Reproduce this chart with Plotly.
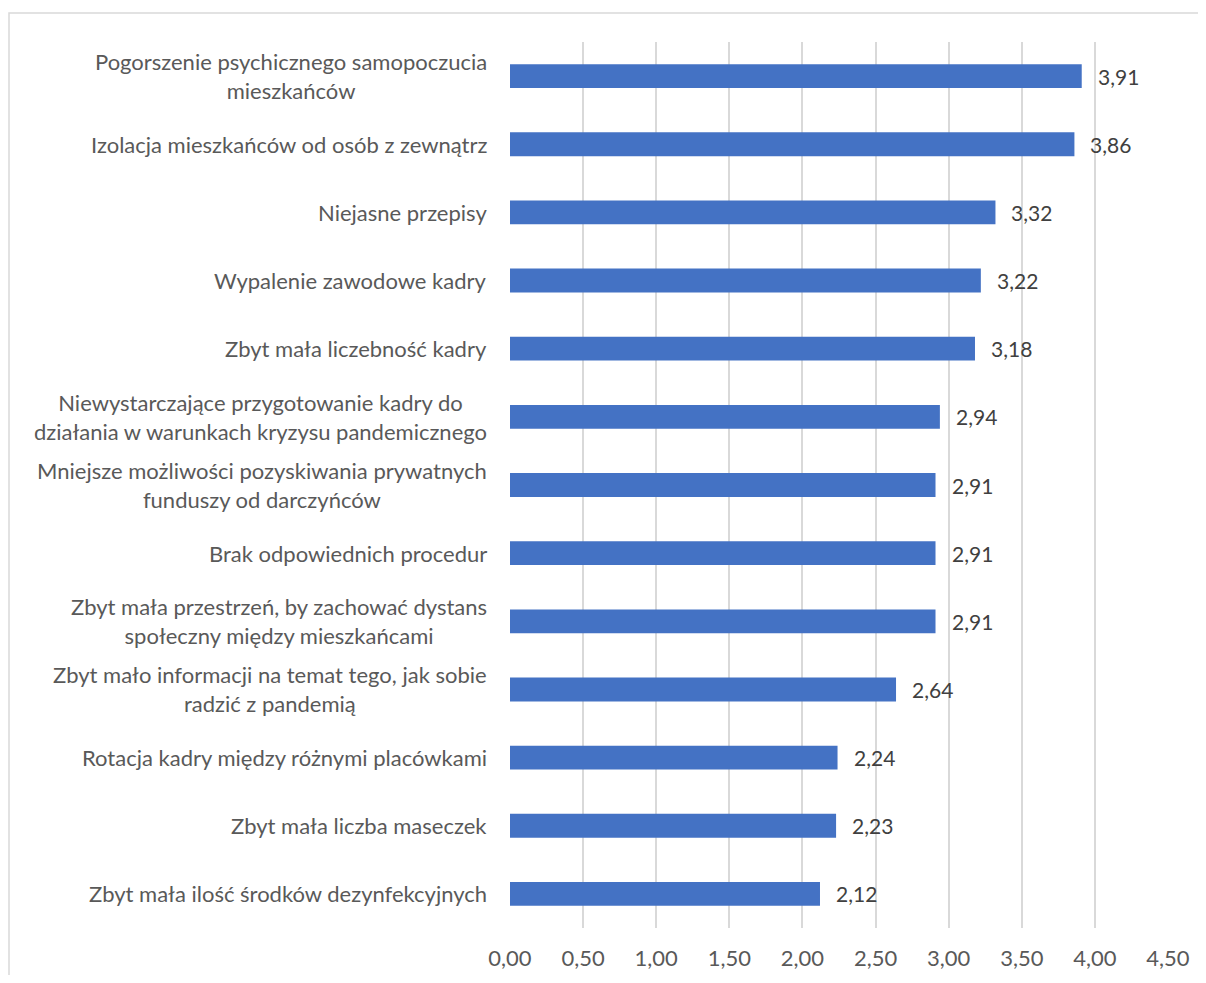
import plotly.graph_objects as go

categories = [
    "Pogorszenie psychicznego samopoczucia<br>mieszkańców",
    "Izolacja mieszkańców od osób z zewnątrz",
    "Niejasne przepisy",
    "Wypalenie zawodowe kadry",
    "Zbyt mała liczebność kadry",
    "Niewystarczające przygotowanie kadry do<br>działania w warunkach kryzysu pandemicznego",
    "Mniejsze możliwości pozyskiwania prywatnych<br>funduszy od darczyńców",
    "Brak odpowiednich procedur",
    "Zbyt mała przestrzeń, by zachować dystans<br>społeczny między mieszkańcami",
    "Zbyt mało informacji na temat tego, jak sobie<br>radzić z pandemią",
    "Rotacja kadry między różnymi placówkami",
    "Zbyt mała liczba maseczek",
    "Zbyt mała ilość środków dezynfekcyjnych",
]
values = [3.91, 3.86, 3.32, 3.22, 3.18, 2.94, 2.91, 2.91, 2.91, 2.64, 2.24, 2.23, 2.12]
tick_vals = [0, 0.5, 1, 1.5, 2, 2.5, 3, 3.5, 4, 4.5]

# page body has an 8px margin; size figure to fit the viewport
W, H = 1190, 967
ML, MR, MT, MB = 502, 30, 34, 47
pw, ph = W - ML - MR, H - MT - MB

FONT = "Lato"
TXT = "#595959"

fig = go.Figure(go.Bar(
    x=values, y=categories, orientation="h",
    marker=dict(color="#4472C4", line=dict(width=0)),
    width=0.35, hoverinfo="skip",
))

annotations = []
for c, v in zip(categories, values):
    annotations.append(dict(
        x=v, y=c, xref="x", yref="y", xanchor="left", xshift=14,
        text=f"{v:.2f}".replace(".", ","), showarrow=False,
        font=dict(family=FONT, size=21, color="#404040"),
    ))
    annotations.append(dict(
        x=0, y=c, xref="paper", yref="y", xanchor="right", xshift=-21,
        text=c, showarrow=False, align="center",
        font=dict(family=FONT, size=22, color=TXT),
    ))

border_x0 = (1 - ML) / pw
border_y1 = (H - MB - 5) / ph

fig.update_layout(
    width=W, height=H, autosize=False,
    margin=dict(l=ML, r=MR, t=MT, b=MB, pad=0, autoexpand=False),
    paper_bgcolor="white", plot_bgcolor="white",
    separators=", ",
    showlegend=False,
    xaxis=dict(
        range=[0, 4.5], tickvals=tick_vals, tickformat=".2f",
        showgrid=True, gridcolor="#D9D9D9", gridwidth=1.5,
        zeroline=False, showline=False, automargin=False,
        ticks="outside", ticklen=11, tickcolor="rgba(0,0,0,0)",
        tickfont=dict(family=FONT, size=22, color=TXT),
        fixedrange=True,
    ),
    yaxis=dict(
        autorange="reversed", showticklabels=False, showgrid=False,
        zeroline=False, showline=False, fixedrange=True, automargin=False,
    ),
    annotations=annotations,
    shapes=[dict(
        type="rect", xref="paper", yref="paper",
        x0=border_x0, x1=1.2, y0=-0.2, y1=border_y1,
        line=dict(color="#D9D9D9", width=1.5), fillcolor="rgba(0,0,0,0)",
        layer="below",
    )],
)

fig.write_html("out.html")
